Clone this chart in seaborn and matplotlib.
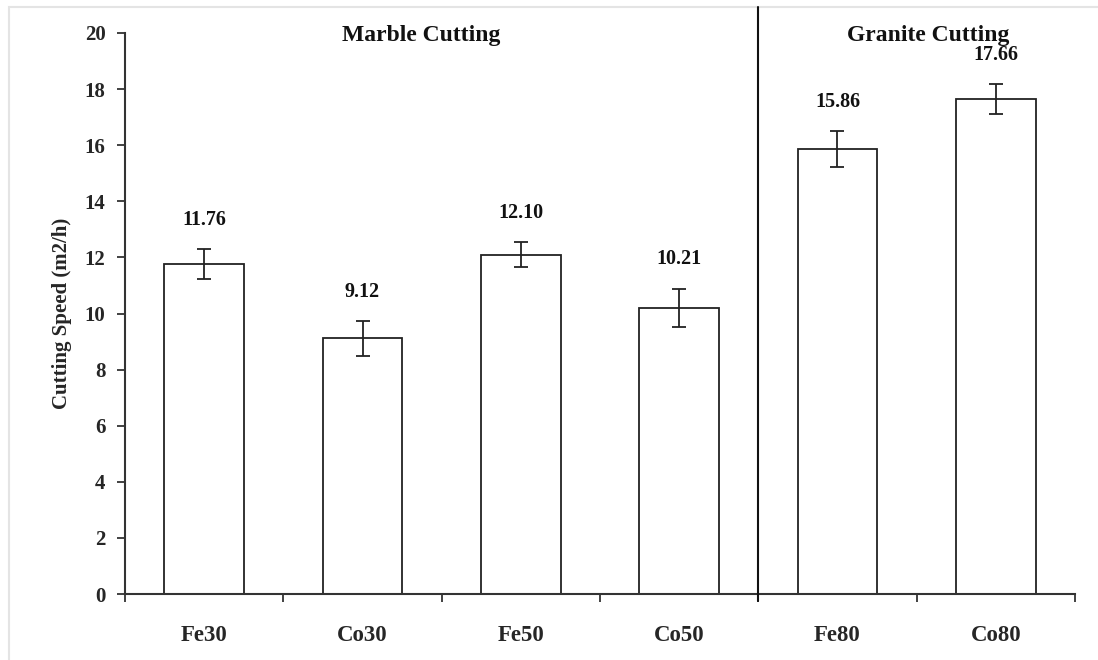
import matplotlib
matplotlib.use("Agg")
import matplotlib.pyplot as plt
import seaborn as sns
import pandas as pd
import numpy as np
from matplotlib.lines import Line2D
from matplotlib.patches import Rectangle

categories = ["Fe30", "Co30", "Fe50", "Co50", "Fe80", "Co80"]
speeds = [11.76, 9.12, 12.10, 10.21, 15.86, 17.66]
errors = [0.53, 0.62, 0.46, 0.68, 0.63, 0.53]
value_labels = ["11.76", "9.12", "12.10", "10.21", "15.86", "17.66"]
y_ticks = [0, 2, 4, 6, 8, 10, 12, 14, 16, 18, 20]
group_titles = ["Marble Cutting", "Granite Cutting"]

sns.set_theme(style="white")
plt.rcParams["font.family"] = ["Liberation Serif", "DejaVu Serif"]
plt.rcParams["font.weight"] = "bold"

df = pd.DataFrame({"Alloy": categories, "Speed": speeds})

fig = plt.figure(figsize=(10.98, 6.6), dpi=100)
fig.patch.set_facecolor("white")
ax = fig.add_axes([125 / 1098, 1 - 594 / 660, 950 / 1098, 561 / 660])

# light frame of the screenshot
fig.add_artist(Rectangle((9 / 1098, -0.1), 1.2, (660 - 7) / 660 + 0.1,
                         transform=fig.transFigure, fill=False,
                         edgecolor="#e4e4e4", linewidth=1.5, zorder=0))

sns.barplot(data=df, x="Alloy", y="Speed", ax=ax, color="white",
            edgecolor="#222222", linewidth=1.3, width=0.505, errorbar=None,
            saturation=1)
x = np.arange(len(categories))
ax.errorbar(x, speeds, yerr=errors, fmt="none", ecolor="#222222",
            elinewidth=1.3, capsize=5, capthick=1.3, zorder=5)

for xi, v, e, lab in zip(x, speeds, errors, value_labels):
    ax.annotate(lab, (xi, v + e), xytext=(0, 21), textcoords="offset points",
                ha="center", va="center", fontsize=14.5, fontweight="bold",
                color="#111111")

ax.set_xlim(-0.5, len(categories) - 0.5)
ax.set_ylim(0, 20)
ax.set_yticks(y_ticks)
ax.set_yticklabels([str(t) for t in y_ticks], fontsize=15, fontweight="bold")
ax.set_xticks(x)
ax.set_xticklabels(categories, fontsize=16.5, fontweight="bold")
ax.set_xticks(np.arange(-0.5, len(categories), 1.0), minor=True)
ax.tick_params(axis="x", which="major", length=0, pad=22)
ax.tick_params(axis="x", which="minor", length=6, width=1.3, color="#333333",
               direction="out", bottom=True)
ax.tick_params(axis="y", which="major", length=6, width=1.3, color="#333333",
               direction="out", left=True, pad=8)
ax.set_xlabel("")
ax.set_ylabel("Cutting Speed (m2/h)", fontsize=15, fontweight="bold", labelpad=9)

for side in ["top", "right"]:
    ax.spines[side].set_visible(False)
for side in ["left", "bottom"]:
    ax.spines[side].set_color("#333333")
    ax.spines[side].set_linewidth(1.5)

# separator between marble and granite groups
sep_x = 3.5
xd = ax.transData.transform((sep_x, 0))[0]
xf = fig.transFigure.inverted().transform((xd, 0))[0]
fig.add_artist(Line2D([xf, xf], [1 - 601 / 660, 1 - 7 / 660],
                      transform=fig.transFigure, color="#111111", linewidth=1.5))

ax.text(1.37, 19.9, group_titles[0], ha="center", va="center", fontsize=17,
        fontweight="bold", color="#111111")
ax.text(4.57, 19.9, group_titles[1], ha="center", va="center", fontsize=17,
        fontweight="bold", color="#111111")

fig.savefig("out.png", dpi=100, facecolor="white")
